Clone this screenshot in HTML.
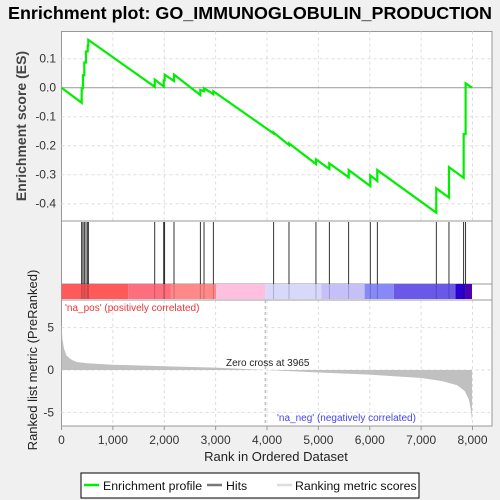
<!DOCTYPE html>
<html><head><meta charset="utf-8"><style>
body{margin:0;background:#f0f0f0;font-family:"Liberation Sans",sans-serif}
svg{display:block}
</style></head><body>
<svg id="c" width="500" height="500" xmlns="http://www.w3.org/2000/svg">
<text x="250" y="19" text-anchor="middle" font-size="17.5" font-weight="bold" fill="#000" textLength="484" lengthAdjust="spacingAndGlyphs">Enrichment plot: GO_IMMUNOGLOBULIN_PRODUCTION</text>
</svg>
<script>
const hitRanks=[393,418,444,477,510,522,1815,1990,2008,2190,2702,2774,2955,4130,4428,4953,5213,5590,6010,6147,7295,7542,7828,7866];
const esBefore=[-0.052,-0.002,0.043,0.087,0.125,0.145,0.003,0.004,0.025,0.023,-0.025,-0.012,-0.022,-0.158,-0.198,-0.263,-0.28,-0.309,-0.339,-0.322,-0.431,-0.379,-0.311,-0.16];
const esAfter=[-0.002,0.043,0.087,0.125,0.145,0.165,0.028,0.025,0.045,0.045,-0.008,-0.002,-0.012,-0.155,-0.192,-0.247,-0.261,-0.284,-0.302,-0.284,-0.347,-0.274,-0.16,0.015];
const nRanks=7990;
const metricRanks=[0,20,50,100,200,300,500,1000,2000,3000,3965,5000,6000,7000,7400,7700,7850,7930,7970,7990];
const metricVals=[5.3,3.6,2.5,1.7,1.2,0.95,0.8,0.62,0.45,0.28,0,-0.3,-0.55,-0.95,-1.3,-1.8,-2.5,-3.5,-4.8,-6.0];
const esTicks=[0.1,0.0,-0.1,-0.2,-0.3,-0.4];
const metricTicks=[5,0,-5];
const xTicks=[0,1000,2000,3000,4000,5000,6000,7000,8000];
const barColors=[[0,'#ff5a5a'],[1300,'#ff6e7e'],[2130,'#ff8888'],[3010,'#ffc0e0'],[3965,'#d8d8fa'],[5060,'#c6c0f8'],[5900,'#8888f8'],[6470,'#6a58e8'],[7670,'#2a00d0'],[7870,'#5000b0']];

const svg=document.getElementById('c');const NS='http://www.w3.org/2000/svg';
const L=61.5,R=492;
const X=r=>61.5+r*411/8000;
const YE=v=>87.7-v*290;
const YM=v=>370-v*8.47;
function el(t,a,p){const e=document.createElementNS(NS,t);for(const k in a)e.setAttribute(k,a[k]);(p||svg).appendChild(e);return e;}
function txt(x,y,s,a){const e=el('text',Object.assign({x:x,y:y,'font-size':12,fill:'#333'},a||{}));e.textContent=s;return e;}
const p1=el('rect',{x:L,y:31.5,width:R-L,height:189.5,fill:'#fff',stroke:'#999'});


const p2=el('rect',{x:L,y:221,width:R-L,height:63,fill:'#fff',stroke:'#999'});


const p3=el('rect',{x:L,y:284,width:R-L,height:142,fill:'#fff',stroke:'#999'});


xTicks.forEach(t=>{if(t===0)return;
 el('line',{x1:X(t),x2:X(t),y1:31.5,y2:221,stroke:'#ddd','stroke-dasharray':'3,3'});
 el('line',{x1:X(t),x2:X(t),y1:300,y2:426,stroke:'#ddd','stroke-dasharray':'3,3'});});
esTicks.forEach(t=>{el('line',{x1:L,x2:R,y1:YE(t),y2:YE(t),stroke:t===0?'#999':'#ddd','stroke-dasharray':t===0?'':'3,3'});
 const e=txt(56,YE(t)+4,t.toFixed(1),{'text-anchor':'end'});
 
 });
metricTicks.forEach(t=>{el('line',{x1:L,x2:R,y1:YM(t),y2:YM(t),stroke:'#ddd','stroke-dasharray':'3,3'});
 const e=txt(54,YM(t)+4,String(t),{'text-anchor':'end'});
 
 });
barColors.forEach((b,i)=>{const end=i<barColors.length-1?barColors[i+1][0]:nRanks;
 const r=el('rect',{x:X(b[0]),y:284,width:X(end)-X(b[0]),height:15,fill:b[1]});
 
 });
el('line',{x1:L,x2:R,y1:300,y2:300,stroke:'#999'});
hitRanks.forEach(h=>{const l=el('line',{x1:X(h),x2:X(h),y1:222,y2:284,stroke:'#000','stroke-width':0.8});
 
 
 el('line',{x1:X(h),x2:X(h),y1:284,y2:299,stroke:'rgba(0,0,0,0.25)','stroke-width':0.8});});
let d='M'+X(0)+','+YM(0);
metricRanks.forEach((r,i)=>{d+=' L'+X(r)+','+YM(metricVals[i]);});
d+=' L'+X(nRanks)+','+YM(0)+'Z';
const ar=el('path',{d:d,fill:'#c0c0c0'});


el('line',{x1:X(3965),x2:X(3965),y1:300,y2:426,stroke:'#aaa','stroke-dasharray':'3,3'});
let pts=[[0,0]];
hitRanks.forEach((h,i)=>{pts.push([h,esBefore[i]]);pts.push([h,esAfter[i]]);});
pts.push([nRanks,0]);
const es=el('polyline',{points:pts.map(p=>X(p[0])+','+YE(p[1])).join(' '),fill:'none',stroke:'#00ee00','stroke-width':2.2});


xTicks.forEach(t=>{el('line',{x1:X(t),x2:X(t),y1:426,y2:430,stroke:'#999'});
 const e=txt(X(t),444,t.toLocaleString('en-US'),{'text-anchor':'middle'});
 
 });
let e;
e=txt(276,461,'Rank in Ordered Dataset',{'text-anchor':'middle','font-size':13,fill:'#222'});


e=txt(0,0,'Enrichment score (ES)',{'text-anchor':'middle','font-size':14,'font-weight':'bold',fill:'#444',transform:'translate(26,126) rotate(-90)'});


e=txt(0,0,'Ranked list metric (PreRanked)',{'text-anchor':'middle','font-size':13,fill:'#222',transform:'translate(37,360) rotate(-90)'});


e=txt(65,311,"'na_pos' (positively correlated)",{'font-size':10,fill:'#ee3333'});


e=txt(277,421,"'na_neg' (negatively correlated)",{'font-size':10,fill:'#4444ee'});


e=txt(226,366,'Zero cross at 3965',{'font-size':10,fill:'#222'});


const lg=el('g',{});


el('rect',{x:81,y:473,width:338,height:25,fill:'#fff',stroke:'#000'},lg);
el('line',{x1:84,x2:99,y1:485,y2:485,stroke:'#00ee00','stroke-width':2.5},lg);
e=txt(103,490,'Enrichment profile',{'font-size':12.3,fill:'#111'});lg.appendChild(e);


el('line',{x1:207,x2:222,y1:485,y2:485,stroke:'#777','stroke-width':2.5},lg);
e=txt(226,490,'Hits',{'font-size':12.3,fill:'#111'});lg.appendChild(e);


el('line',{x1:277,x2:292,y1:485,y2:485,stroke:'#ddd','stroke-width':2.5},lg);
e=txt(295,490,'Ranking metric scores',{'font-size':12.3,fill:'#111'});lg.appendChild(e);


</script>
</body></html>
